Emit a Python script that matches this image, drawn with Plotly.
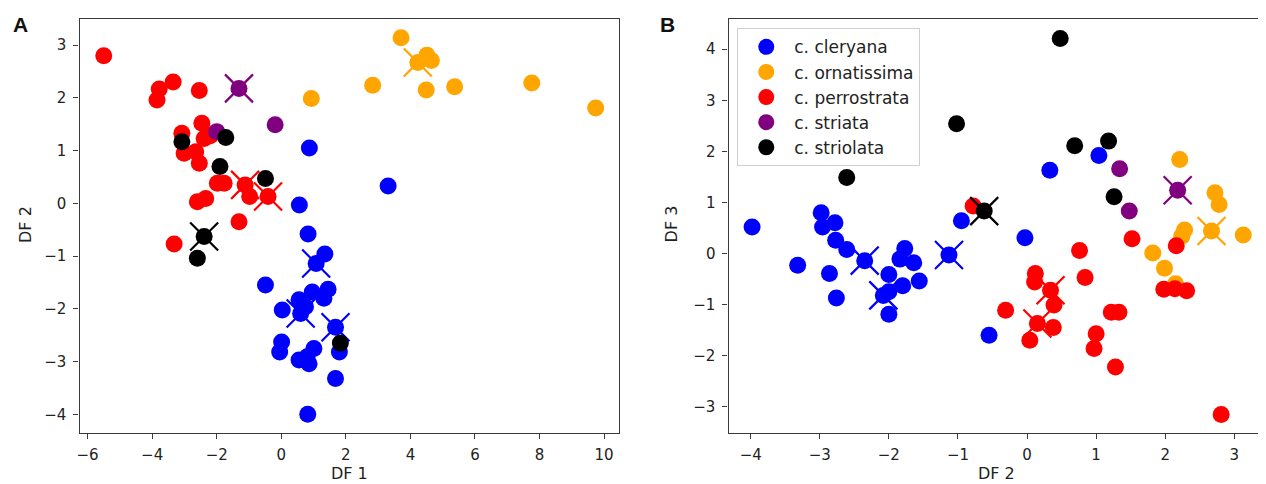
import plotly.graph_objects as go

# ---------------- data: panel A (DF 1 vs DF 2) ----------------
species = ["c. cleryana", "c. ornatissima", "c. perrostrata", "c. striata", "c. striolata"]
colors = ["#0000ff", "#ffa500", "#ff0000", "#800080", "#000000"]

a_cleryana_x = [0.87, 0.56, 3.31, 0.83, 1.35, -0.49, 0.96, 1.45, 1.32, 0.55, 0.75, 0.03,
                1.80, 0.01, -0.05, 1.01, 0.80, 0.55, 0.86, 1.68, 0.82]
a_cleryana_y = [1.05, -0.03, 0.33, -0.58, -0.96, -1.55, -1.68, -1.63, -1.80, -1.83, -1.96, -2.02,
                -2.82, -2.63, -2.82, -2.75, -2.91, -2.97, -3.04, -3.32, -4.00]
a_ornatissima_x = [0.93, 3.71, 4.51, 4.65, 2.83, 4.49, 5.37, 7.76, 9.74]
a_ornatissima_y = [1.99, 3.14, 2.81, 2.71, 2.24, 2.15, 2.21, 2.28, 1.81]
a_perrostrata_x = [-5.50, -3.35, -3.78, -3.85, -2.54, -2.46, -3.08, -2.39, -2.20, -3.01, -2.65,
                   -2.54, -1.98, -1.77, -0.98, -2.60, -2.34, -1.31, -3.32]
a_perrostrata_y = [2.80, 2.30, 2.17, 1.96, 2.14, 1.52, 1.33, 1.23, 1.28, 0.95, 0.98,
                   0.76, 0.38, 0.38, 0.13, 0.03, 0.09, -0.35, -0.77]
a_striata_x = [-2.00, -0.19]
a_striata_y = [1.36, 1.49]
a_striolata_x = [-3.08, -1.72, -1.90, -0.49, -2.60, 1.83]
a_striolata_y = [1.17, 1.25, 0.70, 0.47, -1.04, -2.65]

# centroids (circle with cross) for panel A
a_cent_x = [[1.08, 0.60, 1.68], [4.23], [-1.12, -0.41], [-1.31], [-2.39]]
a_cent_y = [[-1.14, -2.09, -2.35], [2.67], [0.35, 0.13], [2.18], [-0.63]]

# ---------------- data: panel B (DF 2 vs DF 3) ----------------
b_cleryana_x = [-3.98, -3.32, -2.98, -2.96, -2.78, -2.77, -2.61, -2.86, -2.76, -2.00, -2.00,
                -2.00, -1.77, -1.84, -1.64, -1.80, -1.56, -0.95, -0.55, -0.03, 0.33, 1.04]
b_cleryana_y = [0.52, -0.23, 0.80, 0.52, 0.60, 0.26, 0.08, -0.39, -0.87, -0.41, -0.75,
                -1.19, 0.10, -0.11, -0.18, -0.63, -0.54, 0.64, -1.60, 0.31, 1.63, 1.92]
b_ornatissima_x = [2.21, 2.72, 2.78, 3.13, 2.28, 2.24, 1.82, 1.99, 2.15]
b_ornatissima_y = [1.84, 1.19, 0.96, 0.36, 0.46, 0.34, 0.01, -0.29, -0.59]
b_perrostrata_x = [-0.78, 1.52, 2.16, 1.98, 2.14, 2.31, 0.76, 0.84, 0.12, 0.11, 0.39, -0.31,
                   0.38, 0.04, 1.22, 1.33, 1.00, 0.97, 1.28, 2.81]
b_perrostrata_y = [0.93, 0.29, 0.15, -0.70, -0.69, -0.73, 0.06, -0.47, -0.39, -0.56, -1.01, -1.11,
                   -1.45, -1.70, -1.15, -1.15, -1.57, -1.86, -2.22, -3.15]
b_striata_x = [1.34, 1.48]
b_striata_y = [1.66, 0.83]
b_striolata_x = [0.48, -1.02, -2.61, 0.69, 1.18, 1.26]
b_striolata_y = [4.21, 2.54, 1.49, 2.11, 2.20, 1.11]

b_cent_x = [[-2.35, -2.08, -1.13], [2.67], [0.34, 0.15], [2.18], [-0.62]]
b_cent_y = [[-0.14, -0.82, -0.03], [0.44], [-0.72, -1.37], [1.24], [0.83]]

a_xticks = [-6, -4, -2, 0, 2, 4, 6, 8, 10]
a_yticks = [-4, -3, -2, -1, 0, 1, 2, 3]
b_xticks = [-4, -3, -2, -1, 0, 1, 2, 3]
b_yticks = [-3, -2, -1, 0, 1, 2, 3, 4]

a_pts = [(a_cleryana_x, a_cleryana_y), (a_ornatissima_x, a_ornatissima_y),
         (a_perrostrata_x, a_perrostrata_y), (a_striata_x, a_striata_y),
         (a_striolata_x, a_striolata_y)]
b_pts = [(b_cleryana_x, b_cleryana_y), (b_ornatissima_x, b_ornatissima_y),
         (b_perrostrata_x, b_perrostrata_y), (b_striata_x, b_striata_y),
         (b_striolata_x, b_striolata_y)]

FONT = "DejaVu Sans, sans-serif"
BOLD = "Liberation Sans, Arial, sans-serif"
MSIZE = 17

# page body has an 8px margin: figure is placed at (8, 8) in the window
W, H, OFF = 1258, 476, 8


def px(v):
    return (v - OFF) / W


def py(v):
    return 1 - (v - OFF) / H


fig = go.Figure()

for panel, pts, cx, cy, xa, ya in [("A", a_pts, a_cent_x, a_cent_y, "x", "y"),
                                   ("B", b_pts, b_cent_x, b_cent_y, "x2", "y2")]:
    for i, name in enumerate(species):
        xs, ys = pts[i]
        fig.add_trace(go.Scatter(
            x=xs + cx[i], y=ys + cy[i], mode="markers", xaxis=xa, yaxis=ya,
            name=name, legendgroup=name, showlegend=(panel == "B"),
            marker=dict(size=MSIZE, color=colors[i], line=dict(width=0)),
            hoverinfo="skip"))
        fig.add_trace(go.Scatter(
            x=cx[i], y=cy[i], mode="markers", xaxis=xa, yaxis=ya,
            showlegend=False, legendgroup=name,
            marker=dict(symbol="x-thin", size=28, color=colors[i],
                        line=dict(width=2.2, color=colors[i])),
            hoverinfo="skip"))

axis_common = dict(showgrid=False, zeroline=False, showline=True, mirror=True,
                   linecolor="#3a3a3a", linewidth=1.3, ticks="outside", ticklen=5,
                   tickwidth=1.2, tickcolor="#3a3a3a",
                   tickfont=dict(family=FONT, size=15, color="#222"))

fig.update_layout(
    width=W, height=H,
    margin=dict(l=0, r=0, t=0, b=0),
    paper_bgcolor="white", plot_bgcolor="white",
    xaxis=dict(domain=[px(76.7), px(617.7)], range=[-6.25, 10.47],
               tickvals=a_xticks, anchor="y", ticklabelstandoff=3, **axis_common),
    yaxis=dict(domain=[py(433.3), py(19.3)], range=[-4.36, 3.49],
               tickvals=a_yticks, anchor="x", ticklabelstandoff=4, **axis_common),
    xaxis2=dict(domain=[px(727.3), px(1264)], range=[-4.32, 3.43],
                tickvals=b_xticks, anchor="y2", ticklabelstandoff=3, **axis_common),
    yaxis2=dict(domain=[py(433.3), py(19.3)], range=[-3.52, 4.585],
                tickvals=b_yticks, anchor="x2", ticklabelstandoff=4, **axis_common),
    legend=dict(x=px(736), y=py(28.3), xanchor="left", yanchor="top",
                bgcolor="rgba(255,255,255,0.85)", bordercolor="#d0d0d0", borderwidth=1,
                font=dict(family=FONT, size=17, color="#222"),
                itemwidth=46, tracegroupgap=0),
    showlegend=True,
)

for txt, xx, yy in [("<b>A</b>", 18, 25), ("<b>B</b>", 666, 25)]:
    fig.add_annotation(xref="paper", yref="paper", showarrow=False, text=txt,
                       x=px(xx), y=py(yy), xanchor="center", yanchor="middle",
                       font=dict(family=BOLD, size=21, color="#111"))
for txt, xx in [("DF 1", 347), ("DF 2", 996)]:
    fig.add_annotation(xref="paper", yref="paper", showarrow=False, text=txt,
                       x=px(xx), y=py(473.5), xanchor="center", yanchor="middle",
                       borderpad=0,
                       font=dict(family=FONT, size=16, color="#222"))
for txt, xx in [("DF 2", 23), ("DF 3", 671)]:
    fig.add_annotation(xref="paper", yref="paper", showarrow=False, text=txt,
                       x=px(xx), y=py(224), textangle=-90,
                       xanchor="center", yanchor="middle",
                       font=dict(family=FONT, size=16, color="#222"))

fig.write_html("out.html")
